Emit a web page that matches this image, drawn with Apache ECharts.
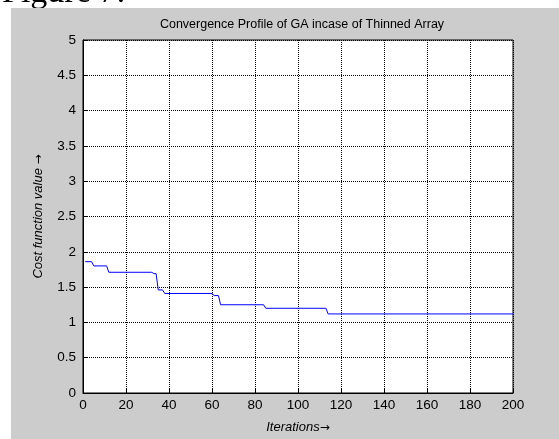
<!DOCTYPE html>
<html>
<head>
<meta charset="utf-8">
<script src="https://cdn.jsdelivr.net/npm/echarts@6/dist/echarts.min.js"></script>
<style>
html,body{margin:0;padding:0;background:#fff;}
#chart{width:559px;height:439px;}
</style>
</head>
<body>
<div id="chart"></div>
<script>
// Breakpoints of the step-like convergence curve (iteration, cost)
var iterations = [1, 4, 5, 11, 12, 32, 33, 34, 35, 37, 38, 60, 61, 63, 64, 84, 85, 113, 114, 200];
var costs      = [1.86, 1.86, 1.80, 1.80, 1.71, 1.71, 1.69, 1.69, 1.46, 1.46, 1.41, 1.41, 1.38, 1.38, 1.25, 1.25, 1.20, 1.20, 1.12, 1.12];
var xTicks = [0, 20, 40, 60, 80, 100, 120, 140, 160, 180, 200];
var yTicks = [0, 0.5, 1, 1.5, 2, 2.5, 3, 3.5, 4, 4.5, 5];
var titleText = 'Convergence Profile of GA incase of Thinned Array';
var xNameText = 'Iterations';
var yNameText = 'Cost function value ';
var arrow = '\u2192';
var captionText = 'Figure 7:';

var seriesData = iterations.map(function (it, i) { return [it, costs[i]]; });

var chart = echarts.init(document.getElementById('chart'), null, {renderer: 'canvas'});
var font = 'Liberation Sans, Arial, Helvetica, sans-serif';
var nameRich = {
  t: {fontFamily: font, fontSize: 13, fontStyle: 'italic', color: '#000'},
  a: {fontFamily: 'DejaVu Sans', fontSize: 12, color: '#000'}
};
var option = {
  backgroundColor: '#ffffff',
  animation: false,
  graphic: [
    {type: 'rect', z: -100, silent: true, shape: {x: 11, y: 8, width: 548, height: 431}, style: {fill: '#cccccc'}},
    {type: 'text', z: -150, silent: true, x: 2, y: 10, style: {text: captionText, font: '34px "Liberation Serif", "Times New Roman", serif', fill: '#000', verticalAlign: 'bottom'}}
  ],
  title: {
    text: titleText, left: 297, top: 13, textAlign: 'center',
    textStyle: {fontFamily: font, fontSize: 12.5, fontWeight: 'normal', color: '#000'}
  },
  grid: {left: 83, right: 46, top: 40, bottom: 44, show: true, backgroundColor: '#ffffff', borderColor: '#000', borderWidth: 1},
  xAxis: {
    type: 'value', min: xTicks[0], max: xTicks[xTicks.length - 1], interval: 20,
    name: '{t|' + xNameText + '}{a|' + arrow + '}', nameLocation: 'middle', nameGap: 28,
    nameTextStyle: {rich: nameRich},
    axisLine: {lineStyle: {color: '#000', width: 1}},
    axisTick: {inside: true, length: 5, lineStyle: {color: '#000'}},
    axisLabel: {fontFamily: font, fontSize: 13.5, color: '#000', margin: 5},
    splitLine: {show: true, lineStyle: {color: '#000', type: [1, 1], width: 1}}
  },
  yAxis: {
    type: 'value', min: yTicks[0], max: yTicks[yTicks.length - 1], interval: 0.5,
    name: '{t|' + yNameText + '}{a|' + arrow + '}', nameLocation: 'middle', nameGap: 38,
    nameTextStyle: {rich: nameRich},
    axisLine: {lineStyle: {color: '#000', width: 1}},
    axisTick: {inside: true, length: 5, lineStyle: {color: '#000'}},
    axisLabel: {fontFamily: font, fontSize: 13.5, color: '#000', margin: 7},
    splitLine: {show: true, lineStyle: {color: '#000', type: [1, 1], width: 1}}
  },
  series: [{
    type: 'line', data: seriesData, showSymbol: false, symbol: 'none',
    lineStyle: {color: '#0000ff', width: 1}, z: 5
  }]
};
chart.setOption(option);
</script>
</body>
</html>
